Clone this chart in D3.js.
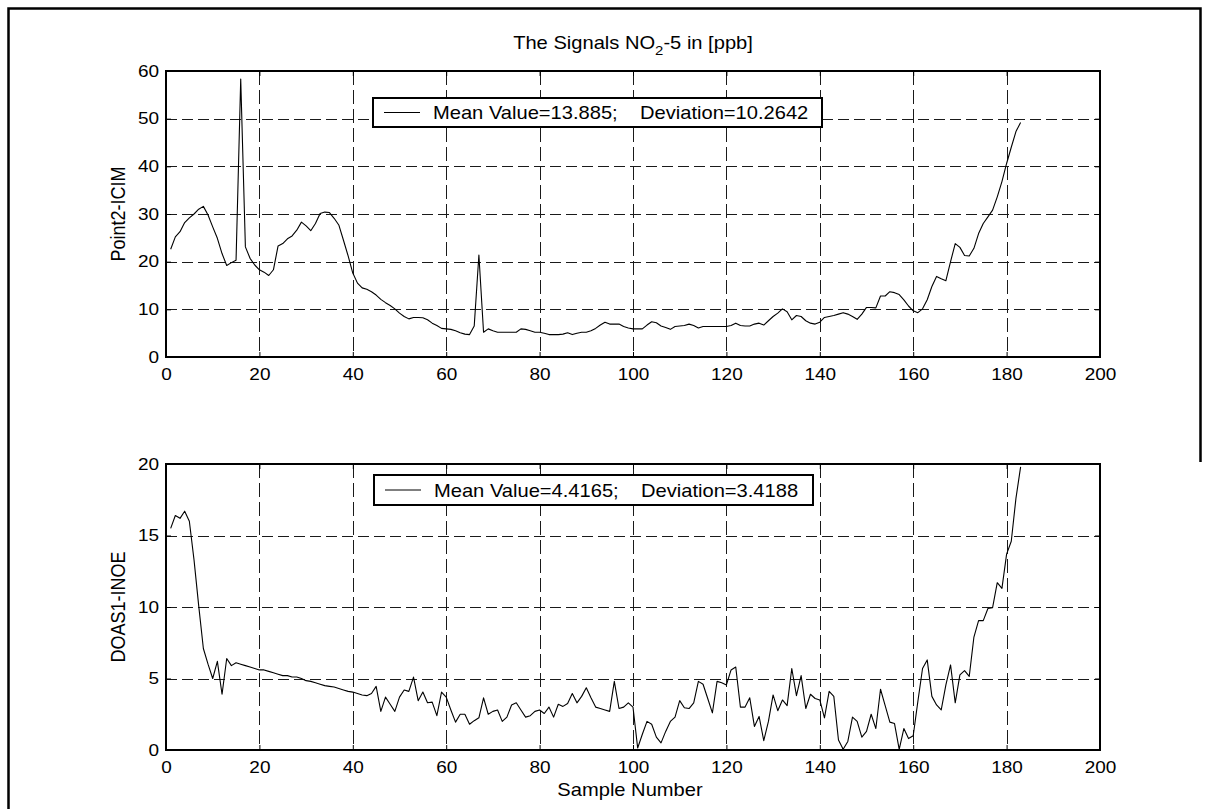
<!DOCTYPE html>
<html>
<head>
<meta charset="utf-8">
<script src="https://cdn.jsdelivr.net/npm/d3@7"></script>
<style>
  html, body { margin: 0; padding: 0; background: #fff; }
  svg { display: block; font-family: "Liberation Sans", Arial, Helvetica, sans-serif; }
</style>
</head>
<body>
<svg id="chart" width="1207" height="809"></svg>
<script>
// Point2-ICIM NO2 signal, samples 1..183
const point2Icim = [
  22.6, 25.2, 26.3, 28.2, 29.2, 30.0, 31.0, 31.6, 29.8, 27.3,
  24.9, 21.7, 19.2, 19.8, 20.3, 58.3, 23.1, 20.7, 19.3, 18.3,
  17.8, 17.1, 18.3, 23.3, 23.8, 24.8, 25.4, 26.6, 28.3, 27.5,
  26.5, 28.0, 30.1, 30.4, 30.3, 29.1, 27.7, 24.5, 21.2, 17.6,
  15.5, 14.5, 14.2, 13.7, 13.0, 12.1, 11.4, 10.8, 10.1, 9.2,
  8.5, 8.0, 8.3, 8.3, 8.25, 7.8, 7.1, 6.6, 6.0, 5.9,
  5.8, 5.5, 5.1, 4.8, 4.7, 6.5, 21.4, 5.2, 5.9, 5.5,
  5.2, 5.2, 5.2, 5.2, 5.2, 5.9, 5.8, 5.5, 5.2, 5.2,
  5.0, 4.7, 4.7, 4.7, 4.8, 5.1, 4.7, 5.0, 5.2, 5.2,
  5.5, 6.0, 6.7, 7.3, 6.9, 6.9, 6.9, 6.4, 6.1, 5.9,
  5.9, 5.9, 6.7, 7.4, 7.2, 6.5, 6.2, 5.8, 6.4, 6.5,
  6.6, 6.9, 6.6, 6.1, 6.4, 6.4, 6.4, 6.4, 6.4, 6.4,
  6.6, 7.1, 6.6, 6.5, 6.5, 6.9, 7.1, 6.7, 7.6, 8.5,
  9.2, 10.1, 9.5, 7.8, 8.7, 8.5, 7.6, 7.1, 6.9, 7.3,
  8.3, 8.5, 8.7, 9.0, 9.3, 9.0, 8.5, 7.9, 9.0, 10.4,
  10.4, 10.3, 12.8, 12.8, 13.7, 13.5, 13.1, 12.0, 10.7, 9.7,
  9.3, 10.1, 12.0, 14.8, 16.9, 16.4, 16.0, 20.0, 23.8, 23.0,
  21.3, 21.2, 22.8, 25.9, 28.0, 29.4, 30.8, 33.6, 36.8, 40.6,
  44.0, 47.3, 49.2
];

// DOAS1-INOE NO2 signal, samples 1..183
const doas1Inoe = [
  15.5, 16.4, 16.2, 16.7, 16.0, 13.3, 10.1, 7.1, 6.0, 5.0,
  6.2, 3.9, 6.4, 5.9, 6.1, 6.0, 5.9, 5.8, 5.7, 5.6,
  5.6, 5.5, 5.4, 5.3, 5.2, 5.2, 5.1, 5.1, 5.0, 4.85,
  4.8, 4.7, 4.6, 4.5, 4.45, 4.4, 4.3, 4.2, 4.1, 4.05,
  3.95, 3.85, 3.8, 3.95, 4.45, 2.7, 3.7, 3.2, 2.7, 3.7,
  4.2, 4.1, 5.1, 3.45, 4.05, 3.3, 3.35, 2.4, 4.05, 3.7,
  2.8, 1.95, 2.5, 2.5, 1.8, 2.05, 2.25, 3.65, 2.5, 2.7,
  2.8, 2.0, 2.3, 3.15, 3.3, 2.8, 2.3, 2.4, 2.7, 2.8,
  2.55, 3.0, 2.3, 3.2, 3.05, 3.25, 3.95, 3.3, 3.75, 4.35,
  3.65, 3.0, 2.9, 2.8, 2.7, 4.8, 2.9, 3.0, 3.3, 3.0,
  0.14, 1.1, 2.0, 1.8, 0.9, 0.5, 1.3, 2.0, 2.3, 3.45,
  2.95, 2.9, 3.3, 4.8, 4.6, 3.6, 2.6, 4.8, 4.7, 4.55,
  5.6, 5.8, 3.0, 3.0, 3.65, 1.65, 2.35, 0.65, 2.0, 3.85,
  2.75, 3.5, 3.1, 5.7, 3.8, 5.2, 2.9, 3.9, 3.6, 3.5,
  2.25, 4.1, 3.75, 0.7, 0.05, 0.6, 2.3, 2.0, 0.9, 1.3,
  2.5, 1.5, 4.25, 3.1, 1.95, 1.85, 0.05, 1.5, 0.8, 1.0,
  3.4, 5.7, 6.3, 3.75, 3.15, 2.8, 4.55, 5.95, 3.3, 5.25,
  5.55, 5.15, 7.9, 9.05, 9.05, 9.9, 9.95, 11.7, 11.3, 13.7,
  14.6, 17.6, 19.8
];

const xTicks = [0, 20, 40, 60, 80, 100, 120, 140, 160, 180, 200];
const yTicksTop = [0, 10, 20, 30, 40, 50, 60];
const yTicksBottom = [0, 5, 10, 15, 20];

const titleMain = "The Signals NO";
const titleSub = "2";
const titleTail = "-5 in [ppb]";
const xLabel = "Sample Number";
const yLabelTop = "Point2-ICIM";
const yLabelBottom = "DOAS1-INOE";
const gap = "\u00A0\u00A0\u00A0\u00A0";
const legendTop = "Mean Value=13.885;" + gap + "Deviation=10.2642";
const legendBottom = "Mean Value=4.4165;" + gap + "Deviation=3.4188";

const W = 1207, H = 809;
const textStretch = 1.15;   // glyphs are drawn slightly wide
const svg = d3.select("#chart");

// outer figure border
svg.append("path")
  .attr("d", `M8.5,${H} V8.5 H1200.5 V462`)
  .attr("fill", "none").attr("stroke", "#000").attr("stroke-width", 2.5);

const plotLeft = 166, plotRight = 1100;
const x = d3.scaleLinear().domain([0, 200]).range([plotLeft, plotRight]);

function panel(values, yDomain, yTicks, top, bottom, yLabel, legendText, legendBox) {
  const y = d3.scaleLinear().domain(yDomain).range([bottom, top]);
  const g = svg.append("g");

  // dashed grid at interior ticks
  const grid = g.append("g").attr("stroke", "#1a1a1a").attr("stroke-width", 1);
  grid.selectAll(".gx").data(xTicks.slice(1, -1)).join("line")
    .attr("stroke-dasharray", "14,5")
    .attr("x1", d => Math.round(x(d)) + 0.5).attr("x2", d => Math.round(x(d)) + 0.5)
    .attr("y1", top).attr("y2", bottom);
  grid.selectAll(".gy").data(yTicks.slice(1, -1)).join("line")
    .attr("stroke-dasharray", "11,5")
    .attr("y1", d => Math.round(y(d)) + 0.5).attr("y2", d => Math.round(y(d)) + 0.5)
    .attr("x1", plotLeft).attr("x2", plotRight);

  // axes with inward ticks
  const styleAxis = sel => {
    sel.select(".domain").remove();
    sel.selectAll("line").attr("stroke", "#000").attr("stroke-width", 1);
    sel.selectAll("text").attr("fill", "#000").style("font-size", "16.5px");
  };
  g.append("g").attr("transform", `translate(0,${bottom})`)
    .call(d3.axisBottom(x).tickValues(xTicks).tickSize(-5).tickPadding(11))
    .call(styleAxis)
    .call(s => s.selectAll("text").attr("transform", `scale(${textStretch},1)`));
  g.append("g").attr("transform", `translate(0,${top})`)
    .call(d3.axisTop(x).tickValues(xTicks).tickSize(-5).tickFormat(""))
    .call(styleAxis);
  g.append("g").attr("transform", `translate(${plotLeft},0)`)
    .call(d3.axisLeft(y).tickValues(yTicks).tickSize(-5).tickPadding(6))
    .call(styleAxis)
    .call(s => s.selectAll("text").attr("transform", `scale(${textStretch},1)`));
  g.append("g").attr("transform", `translate(${plotRight},0)`)
    .call(d3.axisRight(y).tickValues(yTicks).tickSize(-5).tickFormat(""))
    .call(styleAxis);

  // frame
  g.append("rect")
    .attr("x", plotLeft).attr("y", top)
    .attr("width", plotRight - plotLeft).attr("height", bottom - top)
    .attr("fill", "none").attr("stroke", "#000").attr("stroke-width", 2);

  // signal line
  const line = d3.line().x((d, i) => x(i + 1)).y(d => y(d));
  g.append("path").datum(values)
    .attr("d", line)
    .attr("fill", "none").attr("stroke", "#000").attr("stroke-width", 1.1)
    .attr("stroke-linejoin", "round");

  // y label
  g.append("text")
    .attr("transform", `translate(125,${(top + bottom) / 2}) rotate(-90) scale(1,${textStretch})`)
    .attr("text-anchor", "middle")
    .style("font-size", "18px")
    .text(yLabel);

  // legend
  const lg = g.append("g");
  lg.append("rect")
    .attr("x", legendBox.x).attr("y", legendBox.y)
    .attr("width", legendBox.w).attr("height", legendBox.h)
    .attr("fill", "#fff").attr("stroke", "#000").attr("stroke-width", 2);
  const ly = legendBox.y + legendBox.h / 2;
  lg.append("line")
    .attr("x1", legendBox.x + 11).attr("x2", legendBox.x + 47)
    .attr("y1", ly).attr("y2", ly)
    .attr("stroke", "#000").attr("stroke-width", 1);
  lg.append("text")
    .attr("transform", `translate(${legendBox.x + 60},${ly + 6.5}) scale(${textStretch},1)`)
    .style("font-size", "17.5px")
    .text(legendText);
  return g;
}

panel(point2Icim, [0, 60], yTicksTop, 71, 357, yLabelTop, legendTop,
      { x: 373, y: 98, w: 449, h: 29 });
panel(doas1Inoe, [0, 20], yTicksBottom, 464, 750, yLabelBottom, legendBottom,
      { x: 374, y: 475, w: 439, h: 30 });

// title
const title = svg.append("text")
  .attr("transform", `translate(${(plotLeft + plotRight) / 2},49) scale(${textStretch},1)`)
  .attr("text-anchor", "middle")
  .style("font-size", "17.5px");
title.append("tspan").text(titleMain);
title.append("tspan").attr("dy", 6).style("font-size", "13px").text(titleSub);
title.append("tspan").attr("dy", -6).text(titleTail);

// x label
svg.append("text")
  .attr("transform", `translate(630,796) scale(${textStretch},1)`)
  .attr("text-anchor", "middle")
  .style("font-size", "17.5px")
  .text(xLabel);
</script>
</body>
</html>
